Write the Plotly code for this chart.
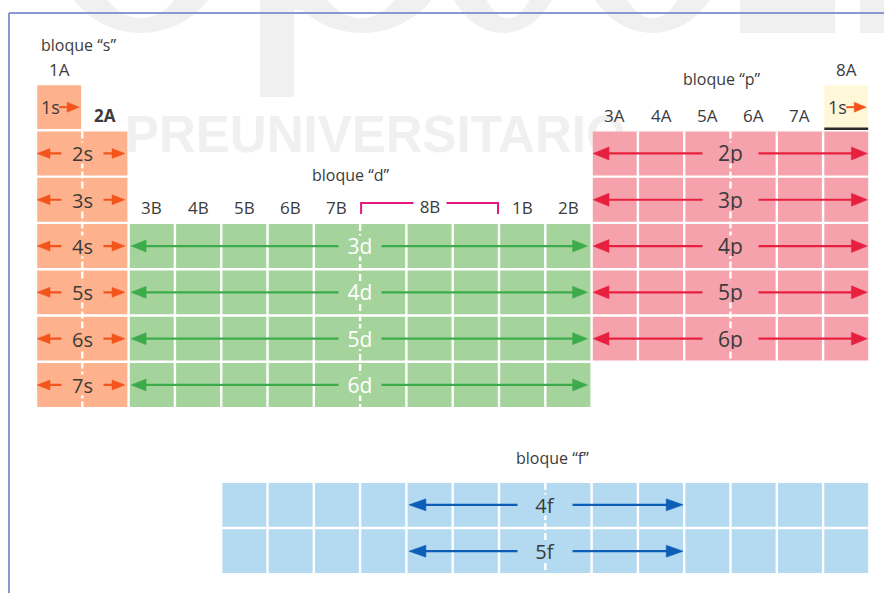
import plotly.graph_objects as go

# ---------------- data ----------------
s_orbitals = ["1s", "2s", "3s", "4s", "5s", "6s", "7s"]
s_periods = [1, 2, 3, 4, 5, 6, 7]
d_orbitals = ["3d", "4d", "5d", "6d"]
d_periods = [4, 5, 6, 7]
p_orbitals = ["2p", "3p", "4p", "5p", "6p"]
p_periods = [2, 3, 4, 5, 6]
f_orbitals = ["4f", "5f"]
f_rows = [1, 2]
he_orbital = "1s"
he_period = 1

s_columns = [1, 2]
d_columns = list(range(3, 13))
p_columns = list(range(13, 19))
f_columns = list(range(5, 19))
f_arrow_columns = list(range(9, 15))
he_column = 18

group_labels = ["1A", "2A", "3B", "4B", "5B", "6B", "7B", "8B", "8B", "8B",
                "1B", "2B", "3A", "4A", "5A", "6A", "7A", "8A"]
group_columns = list(range(1, 19))
block_titles = ["bloque “s”", "bloque “d”", "bloque “p”", "bloque “f”"]

# ---------------- geometry / style ----------------
W, H = 884, 593
CELL = 46.3
GX, GY = 36, 84
U = 1.0 / CELL
X_RANGE = [0.5 - GX * U, 0.5 + (W - GX) * U]
Y_RANGE = [0.5 + (H - GY) * U, 0.5 - GY * U]
F_OFFSET = 8.59

def px2x(px):
    return 0.5 + (px - GX) * U

def px2y(py):
    return 0.5 + (py - GY) * U

def pxp(px):   # pixel -> paper x
    return px / W

def pyp(py):   # pixel -> paper y
    return 1 - py / H

FONT = "Open Sans"
TXT = "#3b3b3b"
S_FILL, S_ARROW = "#fdb28d", "#f2541c"
D_FILL, D_ARROW = "#a5d39c", "#3dab4b"
P_FILL, P_ARROW = "#f5a2ad", "#e8203f"
F_FILL, F_ARROW = "#b3daf1", "#0e5db6"
HE_FILL = "#fff8d8"
FRAME = "#8a98cf"
MAGENTA = "#e3177f"
WM = "#f0f0f0"

shapes = []
annotations = []
traces = []

# ---- faint background watermark (drawn first, below everything) ----
def wm_shape(kind, x0, x1, y0, y1, color=WM):
    shapes.append(dict(type=kind, xref="paper", yref="paper", layer="below",
                       x0=pxp(x0), x1=pxp(x1), y0=pyp(y1), y1=pyp(y0),
                       fillcolor=color, line=dict(width=0)))

# large letters cut by the top edge
wm_shape("circle", 56, 226, -137, 33)
wm_shape("circle", 91, 191, -122, 18, "white")
wm_shape("rect", 260, 294, -100, 97)
wm_shape("circle", 272, 452, -147, 33)
wm_shape("circle", 310, 412, -127, 18, "white")
wm_shape("rect", 294, 312, -60, 10)
wm_shape("circle", 441, 565, -137, 33)
wm_shape("circle", 476, 540, -122, 18, "white")
wm_shape("circle", 580, 725, -137, 33)
wm_shape("circle", 615, 690, -122, 18, "white")
wm_shape("rect", 740, 835, -100, 33)
wm_shape("rect", 860, 884, -100, 33)

shapes.append(dict(type="rect", xref="paper", yref="paper", layer="below",
                   x0=pxp(122), x1=pxp(880), y0=pyp(150), y1=pyp(109),
                   line=dict(width=0), fillcolor="rgba(0,0,0,0)",
                   label=dict(text="PREUNIVERSITARIO", textposition="middle left", padding=0,
                              font=dict(family="Liberation Sans", size=51, color=WM, weight="bold"))))

# frame
shapes.append(dict(type="line", xref="paper", yref="paper", layer="below",
                   x0=pxp(9), x1=1.0, y0=pyp(13), y1=pyp(13), line=dict(color=FRAME, width=2)))
shapes.append(dict(type="line", xref="paper", yref="paper", layer="below",
                   x0=pxp(9), x1=pxp(9), y0=0, y1=pyp(13), line=dict(color=FRAME, width=2)))


def cell_rect(x0, x1, y0, y1, color, inset=1.2):
    shapes.append(dict(type="rect", xref="x", yref="y", layer="below",
                       x0=x0 + inset * U, x1=x1 - inset * U, y0=y0 + inset * U, y1=y1 - inset * U,
                       fillcolor=color, line=dict(width=0)))


def block(cols, ycenters, color):
    left, right = min(cols) - 0.5, max(cols) + 0.5
    for yc in ycenters:
        cell_rect(left, right, yc - 0.5, yc + 0.5, color)
    top, bottom = min(ycenters) - 0.5, max(ycenters) + 0.5
    mid = (left + right) / 2
    for c in cols[:-1]:
        b = c + 0.5
        dash = "7px,3px" if abs(b - mid) < 1e-9 else "solid"
        shapes.append(dict(type="line", xref="x", yref="y", layer="below",
                           x0=b, x1=b, y0=top + 1.2 * U, y1=bottom - 1.2 * U,
                           line=dict(color="white", width=2.4, dash=dash)))
    return left, right, mid


def add_arrows(ycenters, xl, xr, color, hl_px, hw_px, both=True, width=2.2):
    sx, sy, hx, hy = [], [], [], []
    L, Hh = hl_px * U, hw_px * U
    for yc in ycenters:
        sx += [xl + (L * 0.7 if both else 0), xr - L * 0.7, None]
        sy += [yc, yc, None]
        if both:
            hx += [xl, xl + L, xl + L, xl, None]
            hy += [yc, yc - Hh, yc + Hh, yc, None]
        hx += [xr, xr - L, xr - L, xr, None]
        hy += [yc, yc - Hh, yc + Hh, yc, None]
    traces.append(go.Scatter(x=sx, y=sy, mode="lines", line=dict(color=color, width=width),
                             hoverinfo="skip", showlegend=False))
    traces.append(go.Scatter(x=hx, y=hy, mode="lines", fill="toself", fillcolor=color,
                             line=dict(color=color, width=0.5), hoverinfo="skip", showlegend=False))


def add_labels(ycenters, texts, xmid, fill, color, box_w, size=20):
    for yc, t in zip(ycenters, texts):
        annotations.append(dict(x=xmid, y=yc, xref="x", yref="y", text=t, showarrow=False,
                                font=dict(family=FONT, size=size, color=color),
                                bgcolor=fill, width=box_w, height=20, borderpad=0))


# ---- s block ----
s_rows_multi = s_periods[1:]
sl, sr, smid = block(s_columns, s_rows_multi, S_FILL)
cell_rect(s_columns[0] - 0.5, s_columns[0] + 0.5, s_periods[0] - 0.5, s_periods[0] + 0.5, S_FILL)
add_arrows(s_rows_multi, sl + 1 * U, sr - 3.6 * U, S_ARROW, 13, 5)
add_labels(s_rows_multi, s_orbitals[1:], smid, S_FILL, TXT, 41)

# ---- d block ----
dl, dr, dmid = block(d_columns, d_periods, D_FILL)
add_arrows(d_periods, dl + 2.5 * U, dr - 4 * U, D_ARROW, 15, 6)
add_labels(d_periods, d_orbitals, dmid, D_FILL, "white", 42, size=21)

# ---- p block ----
pl, pr, pmid = block(p_columns, p_periods, P_FILL)
add_arrows(p_periods, pl + 1.4 * U, pr - 2 * U, P_ARROW, 16, 6.5)
add_labels(p_periods, p_orbitals, pmid, P_FILL, TXT, 55, size=21)

# ---- He cell (1s in 8A) ----
cell_rect(he_column - 0.5, he_column + 0.5, he_period - 0.5, he_period + 0.5, HE_FILL)
shapes.append(dict(type="line", xref="x", yref="y", layer="below",
                   x0=he_column - 0.5 + 1.2 * U, x1=he_column + 0.5 - 1.2 * U,
                   y0=he_period + 0.5 - 1.5 * U, y1=he_period + 0.5 - 1.5 * U,
                   line=dict(color="#2b2b2b", width=2.6)))

# 1s arrows in both single cells
for col in [s_columns[0], he_column]:
    add_arrows([he_period], col, col + 20 * U, S_ARROW, 12, 5, both=False, width=2)
    annotations.append(dict(x=col - 9 * U, y=he_period, xref="x", yref="y", text=s_orbitals[0],
                            showarrow=False, font=dict(family=FONT, size=18, color=TXT)))

# ---- f block ----
f_y = [F_OFFSET + r for r in f_rows]
fl, fr, fmid = block(f_columns, f_y, F_FILL)
fal, far = min(f_arrow_columns) - 0.5, max(f_arrow_columns) + 0.5
add_arrows(f_y, fal + 2.5 * U, far - 1 * U, F_ARROW, 17, 6)
add_labels(f_y, f_orbitals, (fal + far) / 2, F_FILL, TXT, 54)

# ---- group labels ----
col_top = {}
for c in s_columns:
    col_top[c] = min([p for p in s_periods if c == s_columns[0] or p > 1]) - 0.5
for c in d_columns:
    col_top[c] = min(d_periods) - 0.5
for c in p_columns:
    col_top[c] = min(p_periods) - 0.5
col_top[he_column] = he_period - 0.5

eight_b = [c for c, g in zip(group_columns, group_labels) if g == "8B"]
for c, g in zip(group_columns, group_labels):
    if g == "8B":
        continue
    txt = "<b>%s</b>" % g if g == "2A" else g
    annotations.append(dict(x=c, y=col_top[c] - 15 * U, xref="x", yref="y", text=txt,
                            showarrow=False, font=dict(family=FONT, size=17, color=TXT)))

bx0 = min(eight_b) - 0.5 + 1 * U
bx1 = max(eight_b) + 0.5 - 1 * U
btop = col_top[eight_b[0]]
traces.append(go.Scatter(x=[bx0, bx0, bx1, bx1], y=[btop - 9 * U, btop - 20 * U, btop - 20 * U, btop - 9 * U],
                         mode="lines", line=dict(color=MAGENTA, width=2), hoverinfo="skip", showlegend=False))
annotations.append(dict(x=sum(eight_b) / len(eight_b), y=btop - 16 * U, xref="x", yref="y", text="8B",
                        showarrow=False, font=dict(family=FONT, size=17, color=TXT),
                        bgcolor="white", width=32, borderpad=0))

# ---- block titles ----
title_px = [(78, 45), (351, 175), (722, 79), (552, 458)]
for t, (px, py) in zip(block_titles, title_px):
    annotations.append(dict(x=px2x(px), y=px2y(py), xref="x", yref="y", text=t, showarrow=False,
                            font=dict(family=FONT, size=16, color=TXT)))

fig = go.Figure(data=traces)
fig.update_layout(width=W, height=H, margin=dict(l=0, r=0, t=0, b=0),
                  paper_bgcolor="white", plot_bgcolor="rgba(0,0,0,0)",
                  showlegend=False, hovermode=False,
                  xaxis=dict(range=X_RANGE, visible=False, fixedrange=True),
                  yaxis=dict(range=Y_RANGE, visible=False, fixedrange=True),
                  shapes=shapes, annotations=annotations)

fig.write_html("out.html", config={"displayModeBar": False},
               post_script="document.body.style.margin='0';document.body.style.overflow='hidden';")
